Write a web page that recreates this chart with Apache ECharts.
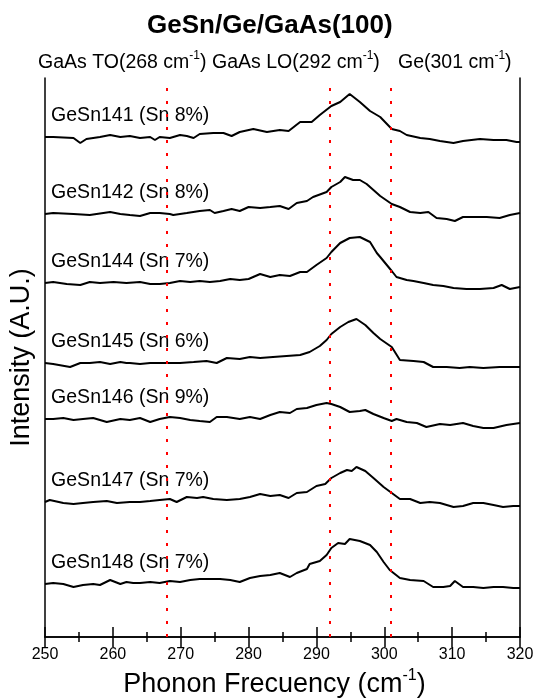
<!DOCTYPE html>
<html>
<head>
<meta charset="utf-8">
<script src="https://cdn.jsdelivr.net/npm/echarts@6/dist/echarts.min.js"></script>
<style>
  html, body { margin: 0; padding: 0; background: #fff; }
  #main { width: 538px; height: 700px; }
</style>
</head>
<body>
<div id="main"></div>
<script>
var dom = document.getElementById('main');
var myChart = echarts.init(dom, null, { renderer: 'canvas' });

// sample names, bottom curve last
const sampleNames = [
  'GeSn141 (Sn 8%)', 'GeSn142 (Sn 8%)', 'GeSn144 (Sn 7%)', 'GeSn145 (Sn 6%)',
  'GeSn146 (Sn 9%)', 'GeSn147 (Sn 7%)', 'GeSn148 (Sn 7%)'
];

// reference phonon lines (cm-1)
const refLines = [268, 292, 301];

// spectra, [wavenumber, stacked intensity a.u.]
const gesn141 = [[250,500],[251.2,500],[254.2,499],[255.2,494],[256.1,498],[258.1,500],[259.6,502],[261.1,500],[262.5,501],[264,499],[265.5,500],[266.2,497],[266.9,500],[268.4,499],[269.9,502],[270.9,501],[271.9,499],[272.8,503],[274.8,504],[276.3,504],[277.5,501],[278.7,505],[280.7,508],[282.7,505],[284.6,507],[285.9,506],[287.6,515],[289.3,515],[290.5,522],[292.2,531],[293.5,535],[294.9,543],[296.4,535],[297.9,526],[299.4,520],[301.1,508],[302.3,506],[303.3,502],[305.3,499],[306.7,498],[308.2,496],[310.2,494],[311.6,496],[314.1,498],[316.1,497],[318,497],[319.5,495],[320,495]];
const gesn142 = [[250,423],[251.2,424],[254.2,423],[256.6,422],[259.6,425],[261.1,423],[262.5,422],[264,421],[265.5,424],[266.9,424],[268.4,423],[268.9,422],[270.9,424],[272.8,426],[274.3,427],[275,424],[276.3,426],[277.5,428],[278.7,426],[280,430],[281.7,429],[283.2,430],[284.6,431],[285.9,428],[287.1,434],[288.6,436],[289.5,440],[291.5,445],[292.2,450],[293.5,455],[294.2,460],[295.4,457],[296.4,457],[297.4,453],[298.4,447],[299.4,441],[301.1,433],[302.3,430],[303.8,425],[305.3,424],[306.5,425],[307.7,419],[309.2,418],[310.4,416],[311.6,420],[313.1,420],[315.1,420],[317,419],[318.5,422],[320,424]];
const gesn144 = [[250,354],[251.2,355],[253.2,353],[255.2,352],[256.6,355],[258.1,354],[260.1,355],[262,354],[264,355],[265.5,353],[266.9,353],[268.4,354],[269.9,356],[271.4,355],[272.8,356],[274.3,355],[275.8,356],[277.3,358],[278.7,357],[280,358],[281.7,363],[283.2,360],[284.6,362],[286.1,361],[287.6,365],[288.6,365],[290,372],[291.5,379],[292.2,385],[293.5,394],[294.9,399],[296.4,400],[297.9,395],[298.9,384],[299.4,380],[301.1,366],[301.8,360],[303.3,357],[304.3,356],[305.8,354],[307.2,352],[308.7,351],[310.2,349],[312.1,348],[314.1,348],[316.1,349],[317.3,352],[318.5,348],[320,350]];
const gesn145 = [[250,274],[251.2,273],[253.7,270],[255.2,274],[256.6,274],[258.1,275],[259.6,273],[261.1,275],[262,274],[262.5,274],[264,273],[265.5,274],[268.4,274],[269.9,274],[271.9,275],[273.8,276],[275.3,274],[276.8,279],[278.7,278],[280.2,280],[281.7,279],[283.6,280],[285.6,281],[287.6,282],[289,285],[290.5,291],[291.5,297],[292.2,303],[293.5,310],[294.7,315],[295.9,318],[297.2,312],[298.4,304],[299.4,298],[301.1,290],[302.3,277],[304.3,276],[305.8,275],[307.2,270],[309.2,270],[311.1,269],[312.6,270],[314.6,269],[317,270],[319,270],[320,270]];
const gesn146 = [[250,218],[251.2,218],[252.7,219],[254.2,217],[255.6,218],[257.1,219],[259.1,215],[261.1,218],[262.5,217],[264,219],[265.5,215],[266.9,218],[268.4,220],[269.9,219],[271.4,217],[272.8,216],[274.3,215],[275.3,220],[276.8,220],[278.7,218],[280.2,220],[281.7,218],[283.2,222],[284.6,225],[286.1,224],[287.1,228],[288.6,229],[290,232],[291.5,234],[292.2,233],[293.5,230],[294.9,225],[296.4,226],[297.2,227],[298.4,223],[299.9,219],[301.1,216],[301.8,218],[303.3,215],[304.8,214],[306.2,210],[308.2,213],[309.7,212],[311.6,214],[313.1,211],[314.6,209],[316.1,209],[318,212],[320,214]];
const gesn147 = [[250,135],[250.7,137],[252.7,134],[254.2,133],[255.6,134],[257.1,135],[259.1,136],[260.6,134],[262.5,135],[264,135],[265.5,136],[266.9,137],[268.4,138],[269.4,135],[270.9,140],[272.4,139],[273.3,140],[274.8,138],[276.8,137],[278.7,138],[280.2,140],[281.7,143],[283.2,141],[284.6,142],[285.9,139],[287.1,144],[288.6,145],[290,151],[291.3,153],[292.2,159],[293.5,164],[294.5,167],[295.2,166],[295.9,170],[297.2,166],[298.4,159],[299.9,150],[301.1,144],[302.3,138],[303.8,138],[305.3,134],[306.7,135],[308.2,134],[310.2,130],[311.6,131],[313.1,134],[314.6,134],[316.1,132],[317.5,130],[319,131],[320,131]];
const gesn148 = [[250,53],[251.2,54],[252.7,53],[254.2,50],[255.6,52],[257.1,53],[258.1,52],[259.6,57],[261.1,53],[262,55],[263,54],[264,54],[265.5,55],[266.9,54],[268.4,56],[269.9,55],[271.4,57],[272.8,58],[274.3,58],[275.8,58],[277.3,57],[278.7,55],[280.2,59],[281.7,61],[283.2,62],[284.6,64],[286.1,60],[287.1,64],[288.6,68],[289,73],[290.5,76],[291.5,82],[292.2,89],[293.2,94],[294.2,93],[294.9,98],[296.4,96],[297.9,92],[298.9,85],[299.9,75],[300.8,67],[302.3,59],[303.8,57],[305.8,56],[307.2,50],[308.7,50],[309.7,51],[310.4,56],[311.6,50],[313.1,50],[314.6,49],[316.1,50],[317.5,50],[319,49],[320,49]];

const spectra = [gesn141, gesn142, gesn144, gesn145, gesn146, gesn147, gesn148];

var font = 'Liberation Sans, Arial, sans-serif';
var axisColor = '#000';

// rich styles for "cm-1" with a raised -1
function supText(size, supSize) {
  return {
    a: { fontSize: size, fontFamily: font, color: '#000', lineHeight: size + 6 },
    s: { fontSize: supSize, fontFamily: font, color: '#000', verticalAlign: 'top', lineHeight: supSize }
  };
}

var series = spectra.map(function (d, i) {
  return {
    name: sampleNames[i],
    type: 'line',
    data: d,
    showSymbol: false,
    silent: true,
    lineStyle: { color: '#000', width: 2 },
    z: 3
  };
});

// dotted reference lines
series[0].markLine = {
  silent: true,
  symbol: 'none',
  label: { show: false },
  lineStyle: { color: '#ff0000', type: [3, 10], width: 2 },
  data: refLines.map(function (v) { return { xAxis: v }; })
};

// sample labels sit a bit above each curve's start
series.push({
  type: 'scatter',
  silent: true,
  symbolSize: 0,
  itemStyle: { opacity: 1 },
  data: spectra.map(function (d, i) { return [250.9, d[0][1] + 21, sampleNames[i]]; }),
  label: {
    show: true,
    position: 'right',
    distance: 0,
    formatter: function (p) { return p.data[2]; },
    fontSize: 19.5,
    fontFamily: font,
    color: '#000',
    opacity: 1
  }
});

var option = {
  animation: false,
  title: {
    text: 'GeSn/Ge/GaAs(100)',
    left: 142,
    top: 8,
    textStyle: { fontSize: 26, fontWeight: 'bold', color: '#000', fontFamily: font }
  },
  grid: { left: 45, right: 18, top: 78, bottom: 63, outerBoundsMode: 'none', containLabel: false },
  xAxis: [
    {
      type: 'value',
      min: 250,
      max: 320,
      interval: 10,
      position: 'bottom',
      axisLine: { lineStyle: { color: axisColor, width: 1.5 } },
      axisTick: { inside: true, length: 10, lineStyle: { color: axisColor, width: 1.5 } },
      minorTick: { show: true, splitNumber: 2, length: 5, lineStyle: { color: axisColor, width: 1.5 } },
      axisLabel: { color: '#000', fontSize: 16, margin: 10, fontFamily: font },
      splitLine: { show: false },
      name: '{a|Phonon Frecuency (cm}{s|-1}{a|)}',
      nameLocation: 'middle',
      nameGap: 30,
      nameTextStyle: { rich: supText(27, 16), padding: [0, 16, 0, 0] }
    },
    {
      type: 'value',
      min: 250,
      max: 320,
      interval: 10,
      position: 'top',
      axisLine: { lineStyle: { color: axisColor, width: 1.5 } },
      axisTick: { inside: true, length: 10, lineStyle: { color: axisColor, width: 1.5 } },
      minorTick: { show: true, splitNumber: 2, length: 5, lineStyle: { color: axisColor, width: 1.5 } },
      axisLabel: { show: false },
      splitLine: { show: false }
    }
  ],
  yAxis: [
    {
      type: 'value',
      min: 0,
      max: 559,
      axisLine: { show: true, lineStyle: { color: axisColor, width: 1.5 } },
      axisTick: { show: false },
      axisLabel: { show: false },
      splitLine: { show: false },
      name: 'Intensity (A.U.)',
      nameLocation: 'middle',
      nameRotate: 90,
      nameGap: 10,
      nameTextStyle: { fontSize: 27, color: '#000', fontFamily: font }
    },
    {
      type: 'value',
      min: 0,
      max: 559,
      position: 'right',
      axisLine: { show: true, lineStyle: { color: axisColor, width: 1.5 } },
      axisTick: { show: false },
      axisLabel: { show: false },
      splitLine: { show: false }
    }
  ],
  graphic: [
    { type: 'text', left: 38, top: 50, style: { text: '{a|GaAs TO(268 cm}{s|-1}{a|)}', rich: supText(19.5, 12) } },
    { type: 'text', left: 212, top: 50, style: { text: '{a|GaAs LO(292 cm}{s|-1}{a|)}', rich: supText(19.5, 12) } },
    { type: 'text', left: 398, top: 50, style: { text: '{a|Ge(301 cm}{s|-1}{a|)}', rich: supText(19.5, 12) } }
  ],
  series: series
};

myChart.setOption(option);
window.addEventListener('resize', myChart.resize);
</script>
</body>
</html>
